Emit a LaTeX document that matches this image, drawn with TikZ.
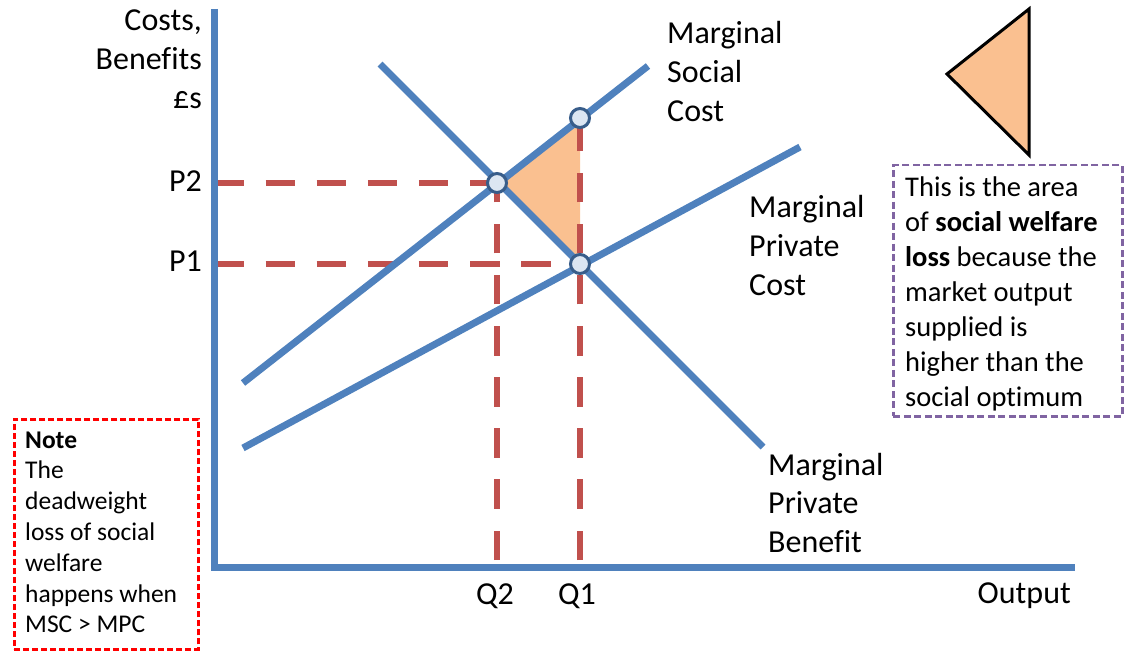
\documentclass[tikz,border=0pt]{standalone}
\usepackage{fontspec}
\setmainfont{Carlito}[Ligatures={NoCommon}]
\definecolor{lineblue}{HTML}{4F81BD}
\definecolor{dashred}{HTML}{C0504D}
\definecolor{areaorange}{HTML}{FAC090}
\definecolor{dotfill}{HTML}{DCE6F2}
\definecolor{dotline}{HTML}{385D8A}
\definecolor{boxpurple}{HTML}{8064A2}
\definecolor{notered}{HTML}{FF0000}
\begin{document}
\begin{tikzpicture}[x=1pt,y=-1pt,
  curve/.style={draw=lineblue, line width=7pt, line cap=butt},
  guide/.style={draw=dashred, line width=6.5pt, dash pattern=on 29.5pt off 21.6pt},
  dot/.style={circle, draw=dotline, fill=dotfill, line width=3pt, minimum size=19pt, inner sep=0pt},
  biglabel/.style={font=\fontsize{32}{38.7}\selectfont, inner sep=0pt},
  boxlabel/.style={font=\fontsize{28.5}{35}\selectfont, inner sep=0pt},
  notelabel/.style={font=\fontsize{25.5}{30.8}\selectfont, inner sep=0pt}]
\useasboundingbox (0,0) rectangle (1130,660);
% key coordinates
\coordinate (O) at (214.5,567);
\coordinate (ytop) at (214.5,9);
\coordinate (xend) at (1075,567);
\coordinate (p2start) at (214.5,183);
\coordinate (p1start) at (214.5,264);
\coordinate (q2base) at (497,560);
\coordinate (q1base) at (580,560);
\coordinate (mscA) at (243,383);
\coordinate (mscB) at (648,66);
\coordinate (mpcA) at (243,448);
\coordinate (mpcB) at (800,147);
\coordinate (mpbA) at (380,64);
\coordinate (mpbB) at (763,447);
% points
\coordinate (E2) at (497,183);
\coordinate (ES) at (580,118);
\coordinate (E1) at (580,264);
% welfare loss area
\fill[areaorange] (E2) -- (ES) -- (E1) -- cycle;
% dashed guides
\draw[guide] (p2start) -- (E2);
\draw[guide] (p1start) -- (E1);
\draw[guide] (q2base) -- (E2);
\draw[guide] (q1base) -- (ES);
% axes
\draw[curve, line join=miter] (ytop) -- (O) -- (xend);
% curves
\draw[curve] (mscA) -- (mscB);
\draw[curve] (mpcA) -- (mpcB);
\draw[curve] (mpbA) -- (mpbB);
% dots
\node[dot] (d2) at (E2) {};
\node[dot] (ds) at (ES) {};
\node[dot] (d1) at (E1) {};
% axis labels
\node[biglabel, anchor=base east] (ylab) at (202,31) {\parbox[t]{150pt}{\raggedleft Costs,\\Benefits\\£s}};
\node[biglabel, anchor=base east] (p2lab) at (202,192) {P2};
\node[biglabel, anchor=base east] (p1lab) at (202,272) {P1};
\node[biglabel, anchor=base] (q2lab) at (495,604) {Q2};
\node[biglabel, anchor=base] (q1lab) at (577,604) {Q1};
\node[biglabel, anchor=base east] (xlab) at (1071,603) {Output};
% curve labels
\node[biglabel, anchor=base west] (msclab) at (667,44) {\parbox[t]{150pt}{Marginal\\Social\\Cost}};
\node[biglabel, anchor=base west] (mpclab) at (749,218) {\parbox[t]{150pt}{Marginal\\Private\\Cost}};
\node[biglabel, anchor=base west] (mpblab) at (768,475) {\parbox[t]{150pt}{Marginal\\Private\\Benefit}};
% legend triangle
\filldraw[fill=areaorange, draw=black, line width=3pt, line join=miter] (1029,9) -- (947,74) -- (1029,155) -- cycle;
% explanation box
\node[draw=boxpurple, line width=2.5pt, dash pattern=on 7pt off 3.5pt, minimum width=229pt, minimum height=251pt, anchor=north west, inner sep=0pt] (expbox) at (892,164) {};
\node[boxlabel, anchor=base west] (exptext) at (905,197) {\parbox[t]{215pt}{This is the area\\of \textbf{social welfare}\\\textbf{loss} because the\\market output\\supplied is\\higher than the\\social optimum}};
% note box
\node[draw=notered, line width=2.5pt, dash pattern=on 6pt off 3pt, minimum width=184pt, minimum height=230pt, anchor=north west, inner sep=0pt] (notebox) at (13,418) {};
\node[notelabel, anchor=base west] (notetext) at (25,448) {\parbox[t]{170pt}{\textbf{Note}\\The\\deadweight\\loss of social\\welfare\\happens when\\MSC > MPC}};
\end{tikzpicture}
\end{document}
